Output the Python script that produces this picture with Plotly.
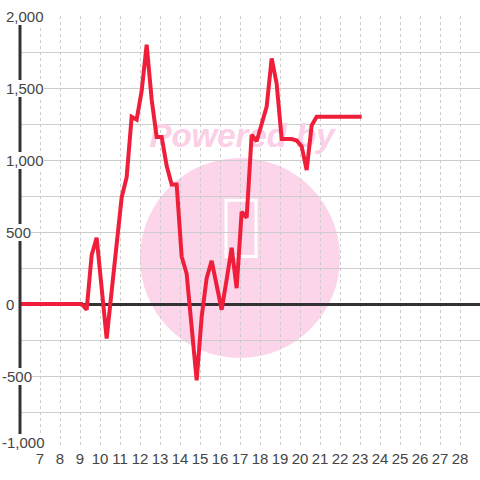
import plotly.graph_objects as go

# ---- data ----
hours = [6.0, 9.083, 9.333, 9.583, 9.833, 10.083, 10.333, 10.583, 10.833, 11.083,
         11.333, 11.583, 11.833, 12.083, 12.333, 12.583, 12.833, 13.083, 13.333, 13.583,
         13.833, 14.083, 14.333, 14.583, 14.833, 15.083, 15.333, 15.583, 15.833, 16.083,
         16.333, 16.583, 16.833, 17.083, 17.333, 17.583, 17.833, 18.083, 18.333, 18.583,
         18.833, 19.083, 19.333, 19.583, 19.833, 20.083, 20.333, 20.583, 20.833, 21.083,
         21.333, 21.583, 21.833, 22.083, 22.333, 22.583, 22.833, 23.083]
values = [0, 0, -40, 340, 460, 100, -240, 90, 420, 740,
          880, 1300, 1280, 1480, 1800, 1420, 1160, 1160, 960, 830,
          830, 330, 210, -180, -530, -90, 180, 300, 130, -40,
          170, 390, 110, 640, 600, 1175, 1130, 1260, 1370, 1705,
          1530, 1146, 1146, 1146, 1135, 1095, 930, 1240, 1300, 1300,
          1300, 1300, 1300, 1300, 1300, 1300, 1300, 1300]

x_ticks = list(range(7, 29))
y_tick_vals = [2000, 1500, 1000, 500, 0, -500, -1000]
y_tick_text = ["2,000", "1,500", "1,000", "500", "0", "-500", "-1,000"]

FONT = "Liberation Sans, Arial, sans-serif"
L, R, T, B = 20, 0, 16, 32
W = 480 - L - R

fig = go.Figure()

# watermark text (under the line)
fig.add_trace(go.Scatter(
    x=[17.1], y=[1150], mode="text", text=["<b><i>Powered by</i></b>"],
    textfont=dict(family=FONT, size=33, color="#fbcfe6"),
    hoverinfo="skip", showlegend=False))

fig.add_trace(go.Scatter(
    x=hours, y=values, mode="lines",
    line=dict(color="#ef1f3b", width=4),
    showlegend=False))

shapes = [
    dict(type="circle", xref="x", yref="y", x0=12.0, x1=22.0, y0=-375, y1=1014,
         fillcolor="#fcd5ea", line=dict(width=0), layer="below"),
    dict(type="rect", xref="x", yref="y", x0=16.3, x1=17.8, y0=330, y1=720,
         fillcolor="rgba(0,0,0,0)", line=dict(color="white", width=3), layer="below"),
    # y axis line
    dict(type="line", xref="paper", yref="paper", x0=0, x1=0, y0=0, y1=1,
         line=dict(color="#333333", width=3), layer="above"),
]

annotations = []
for v, t in zip(y_tick_vals, y_tick_text):
    px = 1.5 if t.startswith("-") else 6
    annotations.append(dict(
        xref="paper", yref="y", x=(px - L) / W, y=v, text=t, showarrow=False,
        xanchor="left", yanchor="middle", bgcolor="white", borderpad=0, borderwidth=0,
        yshift=6 if v == min(y_tick_vals) else 0,
        font=dict(family=FONT, size=15, color="#444444")))

fig.update_layout(
    width=480, height=480,
    margin=dict(l=L, r=R, t=T, b=B),
    paper_bgcolor="white", plot_bgcolor="white",
    shapes=shapes, annotations=annotations,
    font=dict(family=FONT, size=15, color="#444444"),
    xaxis=dict(range=[6, 29], tickvals=x_ticks, ticktext=[str(v) for v in x_ticks],
               showgrid=True, gridcolor="#cccccc", gridwidth=1, griddash="3px,3px",
               zeroline=False, showline=False, ticks="",
               tickfont=dict(family=FONT, size=15, color="#444444")),
    yaxis=dict(range=[-1000, 2000], dtick=250, tick0=0, showticklabels=False,
               showgrid=True, gridcolor="#cccccc", gridwidth=1,
               zeroline=True, zerolinecolor="#333333", zerolinewidth=3,
               showline=False, ticks=""),
)

fig.write_html("out.html", config={"displayModeBar": False},
               post_script="document.body.style.margin='0';")
